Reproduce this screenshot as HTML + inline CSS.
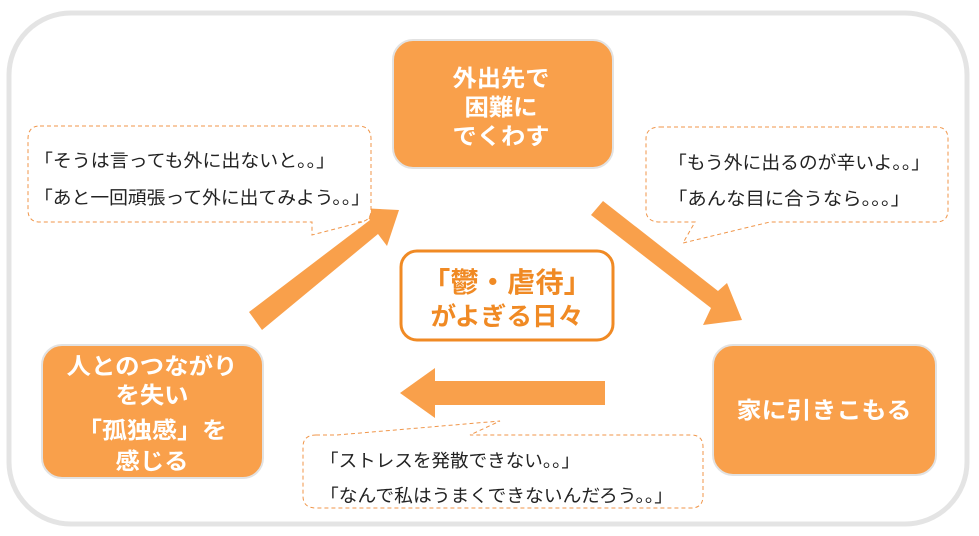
<!DOCTYPE html>
<html><head><meta charset="utf-8"><style>
html,body{margin:0;padding:0;background:#fff;}
svg{display:block;}
text{font-family:"Noto Sans CJK JP","Liberation Sans",sans-serif;}
.w{fill:#fff;font-weight:bold;font-size:23px;text-anchor:middle;}
.c{fill:#222;font-size:18px;}
</style></head><body>
<svg width="979" height="536" viewBox="0 0 979 536" xmlns="http://www.w3.org/2000/svg">
<rect x="9" y="13" width="958" height="511" rx="62" fill="#fff" stroke="#e4e4e4" stroke-width="5"/>
<polygon points="249,312 370,220 360,208 399,210 387,246 378,234 262,330" fill="#f9a04b"/>
<polygon points="591,215 603,201 718,291 727,283 742,320 703,325 711,308" fill="#f9a04b"/>
<polygon points="605,381 605,405 435,405 435,418 400,393 435,368 435,381" fill="#f9a04b"/>
<path d="M40,126 H358 Q371,126 371,139 V210 Q371,222 358,222 H362 L312,235 L312,222 H40 Q28,222 28,210 V139 Q28,126 40,126 Z" fill="#fff" stroke="#f0964a" stroke-width="1" stroke-dasharray="4,3"/>
<path d="M660,127 H936 Q948,127 948,139 V210 Q948,222 936,222 H770 L683,243 L695,222 H660 Q646,222 646,210 V139 Q646,127 660,127 Z" fill="#fff" stroke="#f0964a" stroke-width="1" stroke-dasharray="4,3"/>
<path d="M316,435 H337 L500,421 L470,435 H691 Q703,435 703,447 V496 Q703,508 691,508 H316 Q303,508 303,496 V447 Q303,435 316,435 Z" fill="#fff" stroke="#f0964a" stroke-width="1" stroke-dasharray="4,3"/>
<text class="c" x="34" y="167" textLength="301" lengthAdjust="spacingAndGlyphs">「そうは言っても外に出ないと。。」</text>
<text class="c" x="34" y="204" textLength="336" lengthAdjust="spacingAndGlyphs">「あと一回頑張って外に出てみよう。。」</text>
<text class="c" x="668" y="169" textLength="262" lengthAdjust="spacingAndGlyphs">「もう外に出るのが辛いよ。。」</text>
<text class="c" x="668" y="205" textLength="242" lengthAdjust="spacingAndGlyphs">「あんな目に合うなら。。。」</text>
<text class="c" x="320" y="467" textLength="260" lengthAdjust="spacingAndGlyphs">「ストレスを発散できない。。」</text>
<text class="c" x="320" y="502" textLength="353" lengthAdjust="spacingAndGlyphs">「なんで私はうまくできないんだろう。。」</text>
<rect x="393" y="40" width="220" height="128" rx="20" fill="#f9a04b" stroke="#e2e2e2" stroke-width="2"/>
<text class="w" x="501" y="86" textLength="97" lengthAdjust="spacingAndGlyphs">外出先で</text>
<text class="w" x="501" y="115" textLength="73" lengthAdjust="spacingAndGlyphs">困難に</text>
<text class="w" x="501" y="144" textLength="97" lengthAdjust="spacingAndGlyphs">でくわす</text>
<rect x="42" y="345" width="221" height="133" rx="20" fill="#f9a04b" stroke="#e2e2e2" stroke-width="2"/>
<text class="w" x="152" y="374" textLength="171" lengthAdjust="spacingAndGlyphs">人とのつながり</text>
<text class="w" x="152" y="403" textLength="73" lengthAdjust="spacingAndGlyphs">を失い</text>
<text class="w" x="152" y="438" textLength="150" lengthAdjust="spacingAndGlyphs">「孤独感」を</text>
<text class="w" x="152" y="469" textLength="73" lengthAdjust="spacingAndGlyphs">感じる</text>
<rect x="713" y="345" width="223" height="130" rx="20" fill="#f9a04b" stroke="#e2e2e2" stroke-width="2"/>
<text class="w" x="824" y="418" textLength="175" lengthAdjust="spacingAndGlyphs">家に引きこもる</text>
<rect x="401" y="251" width="212" height="89" rx="16" fill="#fff" stroke="#f08a24" stroke-width="3"/>
<text x="507" y="292" font-size="28" font-weight="bold" fill="#f08a24" text-anchor="middle" textLength="170" lengthAdjust="spacingAndGlyphs">「鬱・虐待」</text>
<text x="507" y="325" font-size="25" font-weight="bold" fill="#f08a24" text-anchor="middle" textLength="153" lengthAdjust="spacingAndGlyphs">がよぎる日々</text>
</svg>
</body></html>
